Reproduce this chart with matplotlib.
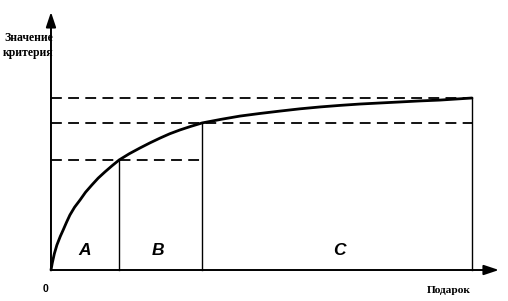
import matplotlib
matplotlib.use("Agg")
import matplotlib.pyplot as plt

# curve (x: % of items, y: % of criterion value)
curve_x = [0, 0.3, 0.8, 1.4, 2.2, 2.9, 3.7, 4.5, 5.6, 6.9, 8.2, 9.7, 11.2, 12.8, 14.5,
           16.2, 18.6, 21.1, 23.5, 25.9, 28.2, 30.6, 33.2, 35.9, 40.4, 44.9, 49.6,
           54.4, 59.1, 63.9, 68.6, 73.4, 78.1, 82.9, 87.6, 92.4, 96.2, 100]
curve_y = [0, 4.0, 9.5, 14.5, 19.5, 23.3, 27.8, 32.0, 36.5, 40.7, 45.2, 49.4, 53.4,
           57.0, 60.6, 64.0, 67.6, 70.9, 73.9, 76.7, 79.2, 81.4, 83.5, 85.5, 87.6,
           89.5, 91.0, 92.4, 93.7, 94.8, 95.7, 96.5, 97.1, 97.7, 98.3, 98.8, 99.4, 100]

# group borders A | B | C
zone_x = [16.2, 35.9, 100]
zone_y = [64.0, 85.5, 100]
zone_names = ["A", "B", "C"]
zone_label_x = [8.0, 25.4, 68.4]

fig = plt.figure(figsize=(5.08, 3.01), dpi=100)
ax = fig.add_axes([0, 0, 1, 1])
ax.set_xlim(-12.11, 108.55)
ax.set_ylim(-18.02, 156.98)
ax.axis("off")

# axes with arrows
ax.annotate("", xy=(106.4, 0), xytext=(0, 0),
            arrowprops=dict(arrowstyle="-|>,head_length=0.9,head_width=0.3",
                            color="black", lw=1.4, shrinkA=0, shrinkB=0))
ax.annotate("", xy=(0, 150), xytext=(0, 0),
            arrowprops=dict(arrowstyle="-|>,head_length=0.9,head_width=0.3",
                            color="black", lw=1.4, shrinkA=0, shrinkB=0))

# dashed levels and vertical borders
for zx, zy in zip(zone_x, zone_y):
    end = zone_x[-1] if zy != zone_y[0] else zone_x[1]
    ax.plot([0, end], [zy, zy], color="black", lw=1.3, ls=(0, (6, 3.5)))
    ax.plot([zx, zx], [0, zy], color="black", lw=1.0)

ax.plot(curve_x, curve_y, color="black", lw=2.0, solid_capstyle="round")

for name, lx in zip(zone_names, zone_label_x):
    ax.text(lx, 11.5, name, fontsize=12.5, fontweight="bold", fontstyle="italic",
            family="Liberation Sans", ha="center", va="center")

ax.text(-1.4, -11, "0", fontsize=7.5, fontweight="bold", family="Liberation Sans",
        ha="center", va="center")
ax.text(0.5, 130.5, "Значение\nкритерия", fontsize=8.5, fontweight="bold",
        family="Liberation Serif", ha="right", va="center", linespacing=1.35)
ax.text(94.5, -12.2, "Подарок", fontsize=8.2, fontweight="bold",
        family="Liberation Serif", ha="center", va="center")

fig.savefig("out.png", dpi=100)
